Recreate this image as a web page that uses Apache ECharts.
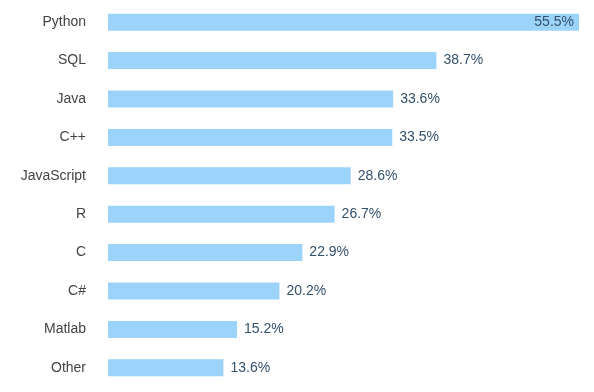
<!DOCTYPE html>
<html><head><meta charset="utf-8">
<script src="https://cdn.jsdelivr.net/npm/echarts@6/dist/echarts.min.js"></script>
<style>html,body{margin:0;padding:0;background:#fff}#c{width:594px;height:392px}</style>
</head><body><div id="c"></div>
<script>
const categories = ["Python","SQL","Java","C++","JavaScript","R","C","C#","Matlab","Other"];
const values = [55.5,38.7,33.6,33.5,28.6,26.7,22.9,20.2,15.2,13.6];

const chart = echarts.init(document.getElementById('c'), null, {renderer:'canvas'});
const data = values.map((v,i)=>({
  value: v,
  label: i===0 ? {position:'insideRight', distance:5} : {position:'right', distance:7}
}));
chart.setOption({
  animation:false,
  grid:{left:108, right:15, top:3, bottom:5, containLabel:false},
  xAxis:{type:'value', min:0, max:55.5, show:false},
  yAxis:{type:'category', data:categories, inverse:true,
    axisLine:{show:false}, axisTick:{show:false},
    axisLabel:{color:'#444', fontSize:14, fontFamily:'Liberation Sans, Arial, sans-serif', margin:22}},
  series:[{type:'bar', data:data, barWidth:17,
    itemStyle:{color:'#9bd3fa'},
    label:{show:true, formatter:p=>p.value.toFixed(1)+'%', color:'#34506c', fontSize:14,
      fontFamily:'Liberation Sans, Arial, sans-serif'}}]
});
</script></body></html>
